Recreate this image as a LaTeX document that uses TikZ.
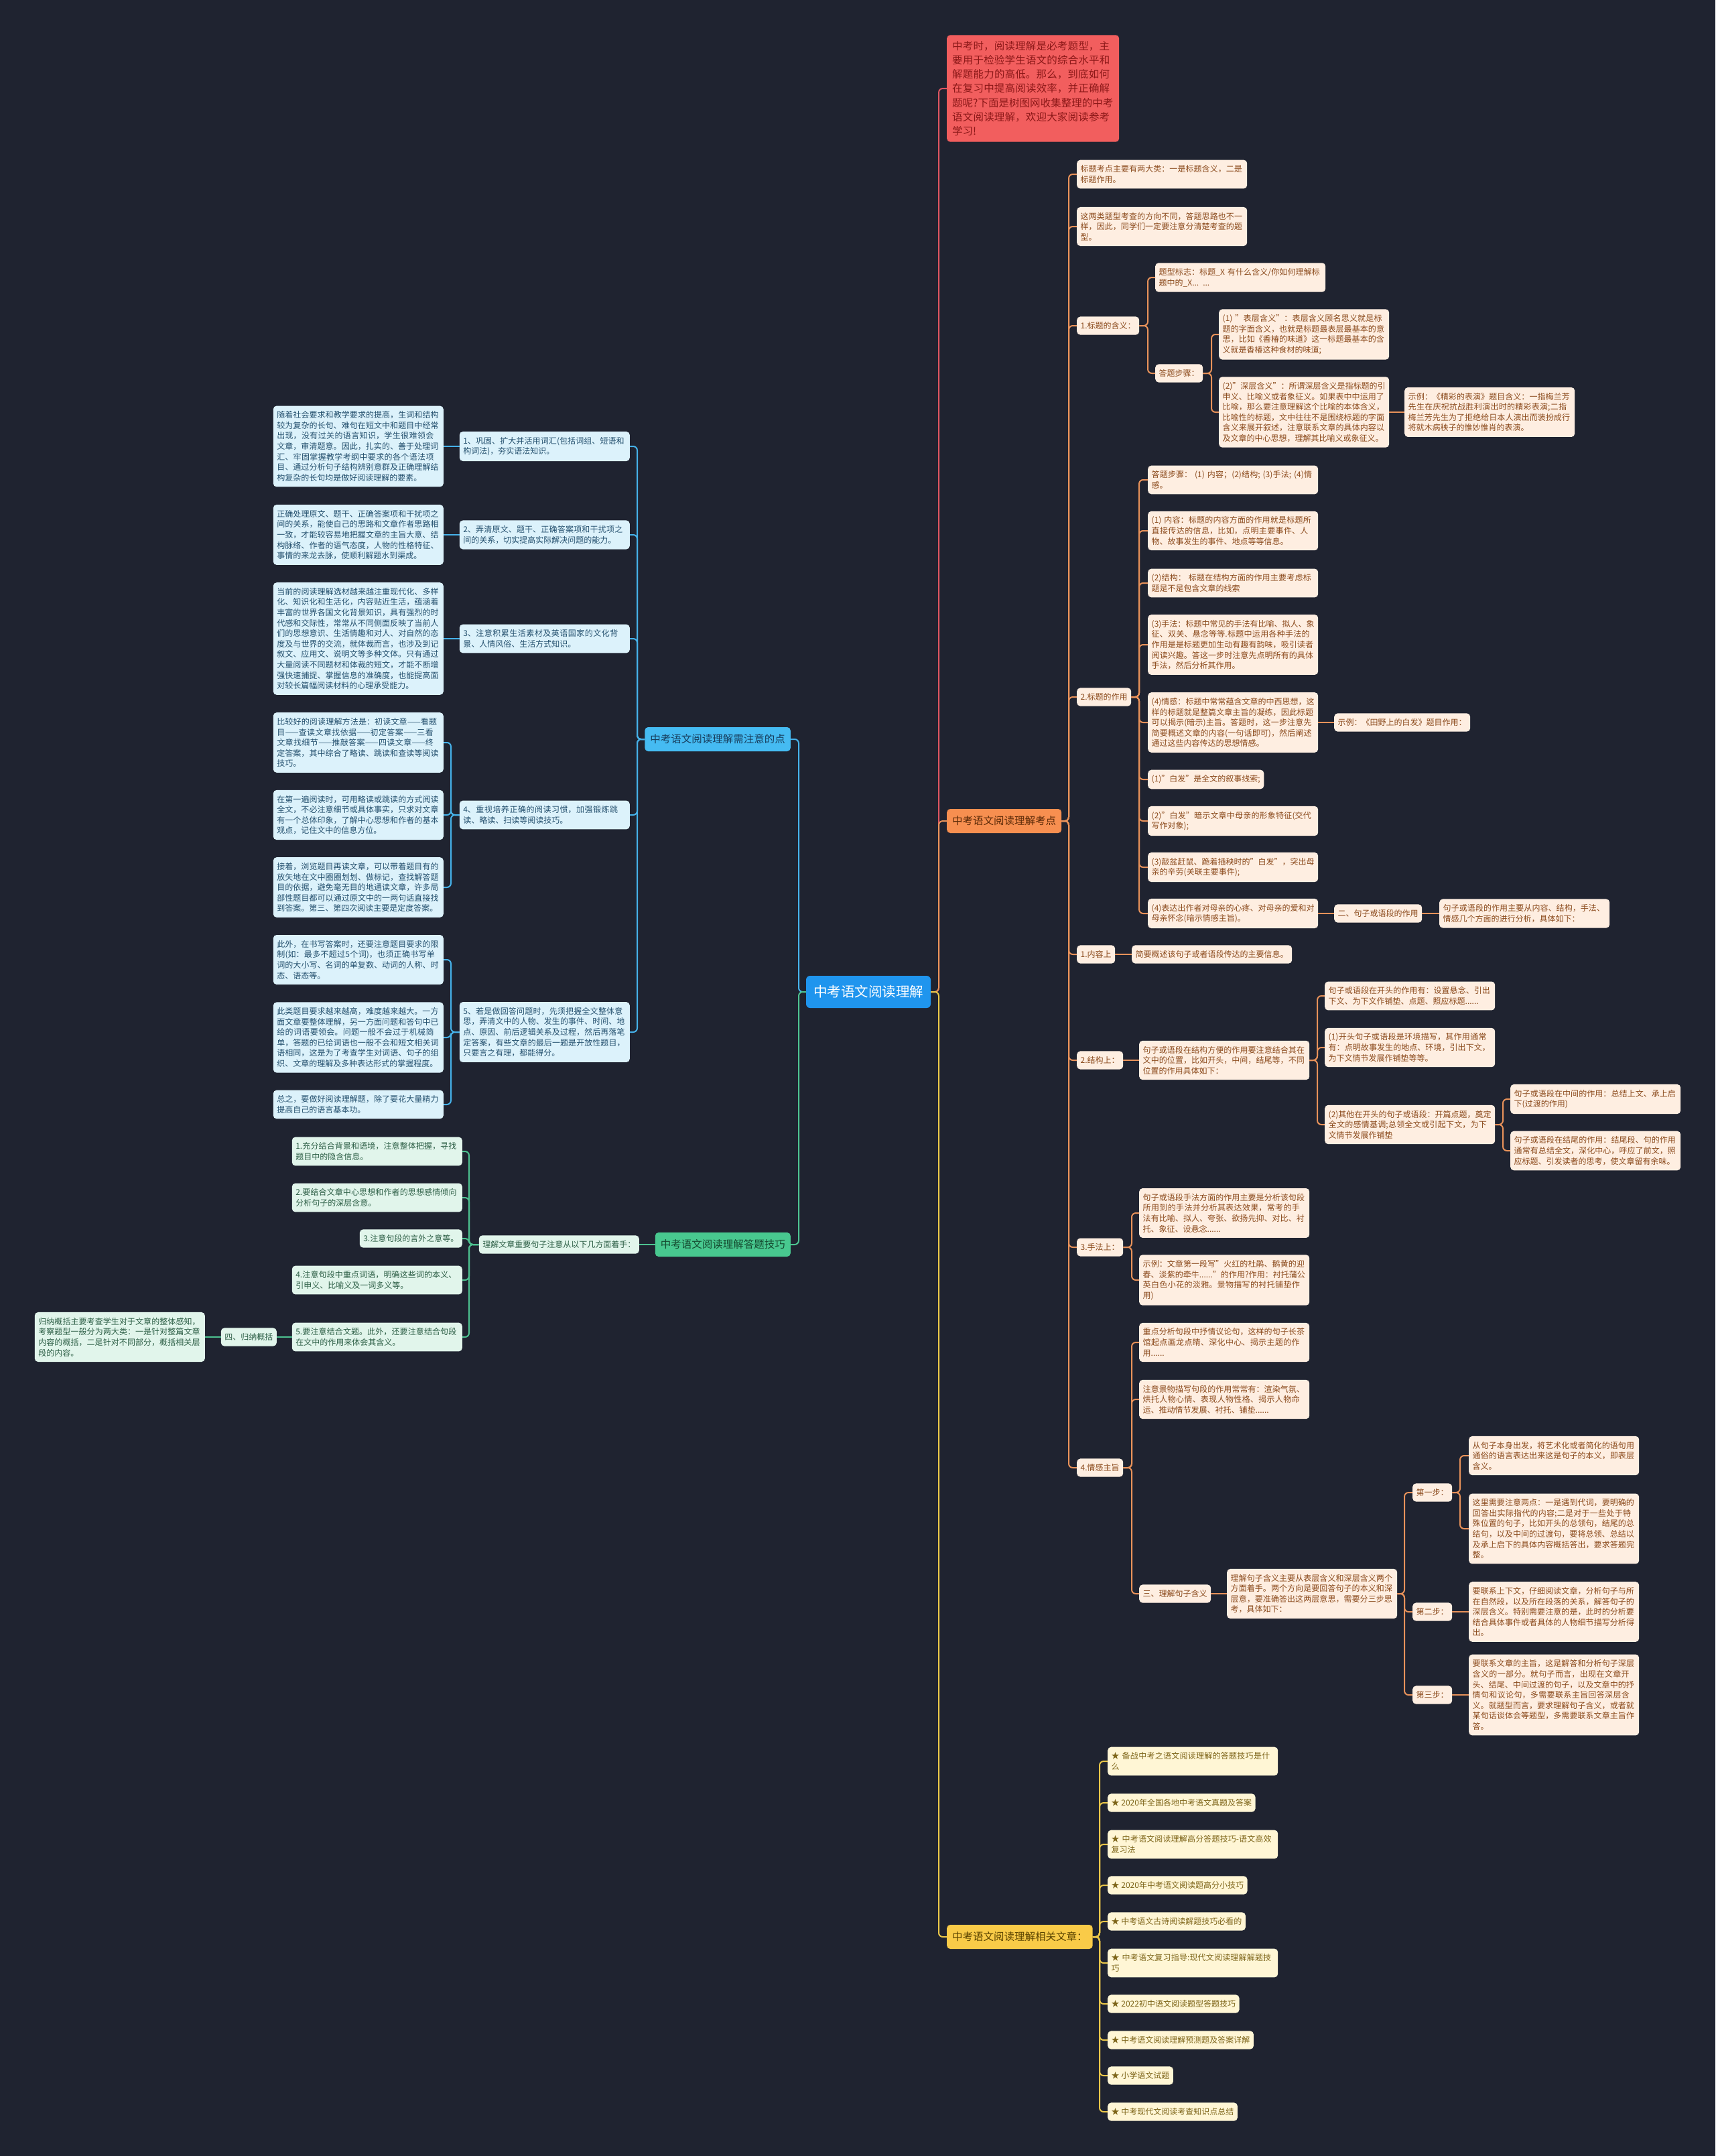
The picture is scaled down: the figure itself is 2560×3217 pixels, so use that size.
\documentclass[tikz,border=0pt]{standalone}
\usepackage{fontspec}
\setmainfont{Noto Sans CJK SC}
\XeTeXlinebreaklocale "zh"
\XeTeXlinebreakskip=0pt plus 1pt

\definecolor{bg}{HTML}{1F2330}
\definecolor{rootfill}{HTML}{1F95EE}
\definecolor{redfill}{HTML}{F25E5E}
\definecolor{redtext}{HTML}{8C1818}
\definecolor{redline}{HTML}{DC5560}
\definecolor{orfill}{HTML}{F78F50}
\definecolor{ortext}{HTML}{5C2A08}
\definecolor{orleaf}{HTML}{FEEEE1}
\definecolor{orleaftext}{HTML}{8B4A1C}
\definecolor{orline}{HTML}{E8925A}
\definecolor{yefill}{HTML}{F9CB48}
\definecolor{yetext}{HTML}{5A4300}
\definecolor{yeleaf}{HTML}{FFF6D5}
\definecolor{yeleaftext}{HTML}{7D6418}
\definecolor{yeline}{HTML}{E9C649}
\definecolor{blfill}{HTML}{45BBF2}
\definecolor{bltext}{HTML}{173D5C}
\definecolor{blleaf}{HTML}{DCF2FB}
\definecolor{blleaftext}{HTML}{24506E}
\definecolor{blline}{HTML}{46B2EA}
\definecolor{grfill}{HTML}{48C88F}
\definecolor{grtext}{HTML}{154A30}
\definecolor{grleaf}{HTML}{E1F5EB}
\definecolor{grleaftext}{HTML}{2C5E45}
\definecolor{grline}{HTML}{4DC290}

\begin{document}
\begin{tikzpicture}[
        x=1pt, y=-1pt,
        font=\fontsize{12}{15.6}\selectfont,
        box/.style={rounded corners=5pt, inner xsep=5.5pt, inner ysep=8pt, align=left},
        wide/.style={text width=243pt},
        oleaf/.style={box, fill=orleaf, text=orleaftext},
        bleaf/.style={box, fill=blleaf, text=blleaftext},
        gleaf/.style={box, fill=grleaf, text=grleaftext},
        yleaf/.style={box, fill=yeleaf, text=yeleaftext},
        topic/.style={rounded corners=5pt, inner xsep=8pt, minimum height=36pt, font=\fontsize{15.5}{20}\selectfont},
        rootbox/.style={rounded corners=6pt, inner xsep=11pt, minimum height=48pt, fill=rootfill, text=white, font=\fontsize{20.5}{24}\selectfont},
        introbox/.style={rounded corners=5pt, inner xsep=8pt, inner ysep=9pt, text width=241pt, align=left, fill=redfill, text=redtext, font=\fontsize{15.5}{21.2}\selectfont},
        conn/.style={line width=2pt, rounded corners=6pt},
        rlink/.style={conn, draw=redline},
        olink/.style={conn, draw=orline},
        ylink/.style={conn, draw=yeline},
        blink/.style={conn, draw=blline},
        glink/.style={conn, draw=grline}
      ]
        \useasboundingbox (0,0) rectangle (2560,3217);
        \fill[bg] (0,0) rectangle (2560,3217);

        % centre and main topics
        \node[rootbox] (root) at (1296,1480) {中考语文阅读理解};
        \node[introbox, anchor=west] (intro) at (1413,132) {中考时，阅读理解是必考题型，主要用于检验学生语文的综合水平和解题能力的高低。那么，到底如何在复习中提高阅读效率，并正确解题呢?下面是树图网收集整理的中考语文阅读理解，欢迎大家阅读参考学习!};
        \node[topic, fill=orfill, text=ortext, anchor=west] (points) at (1413,1225) {中考语文阅读理解考点};
        \node[topic, fill=yefill, text=yetext, anchor=west] (links) at (1413,2890) {中考语文阅读理解相关文章：};
        \node[topic, fill=blfill, text=bltext, anchor=east] (notes) at (1180,1103) {中考语文阅读理解需注意的点};
        \node[topic, fill=grfill, text=grtext, anchor=east] (skills) at (1180,1857) {中考语文阅读理解答题技巧};

        % exam points
        \node[oleaf, wide, anchor=west] (p1) at (1607,260) {标题考点主要有两大类：一是标题含义，二是标题作用。};
        \node[oleaf, wide, anchor=west] (p2) at (1607,338) {这两类题型考查的方向不同，答题思路也不一样，因此，同学们一定要注意分清楚考查的题型。};
        \node[oleaf, anchor=west] (pMean) at (1607,486) {1.标题的含义：};
        \node[oleaf, wide, anchor=west] (pMeanSign) at (1724,414) {题型标志：标题\_X 有什么含义/你如何理解标题中的\_X... ...};
        \node[oleaf, anchor=west] (pMeanSteps) at (1724,557) {答题步骤：};
        \node[oleaf, wide, anchor=west] (pMeanSurf) at (1819,499) {(1) "表层含义"：表层含义顾名思义就是标题的字面含义，也就是标题最表层最基本的意思，比如《香椿的味道》这一标题最基本的含义就是香椿这种食材的味道;};
        \node[oleaf, wide, anchor=west] (pMeanDeep) at (1819,615) {(2)"深层含义"：所谓深层含义是指标题的引申义、比喻义或者象征义。如果表中中运用了比喻，那么要注意理解这个比喻的本体含义，比喻性的标题，文中往往不是围绕标题的字面含义来展开叙述，注意联系文章的具体内容以及文章的中心思想，理解其比喻义或象征义。};
        \node[oleaf, wide, anchor=west] (pMeanEx) at (2096,615) {示例：《精彩的表演》题目含义：一指梅兰芳先生在庆祝抗战胜利演出时的精彩表演;二指梅兰芳先生为了拒绝给日本人演出而装扮成行将就木病秧子的惟妙惟肖的表演。};

        \node[oleaf, anchor=west] (pUse) at (1607,1040) {2.标题的作用};
        \node[oleaf, wide, anchor=west] (pUse1) at (1713,716) {答题步骤：  (1) 内容；(2)结构; (3)手法; (4)情感。};
        \node[oleaf, wide, anchor=west] (pUse2) at (1713,792) {(1) 内容：标题的内容方面的作用就是标题所直接传达的信息，比如，点明主要事件、人物、故事发生的事件、地点等等信息。};
        \node[oleaf, wide, anchor=west] (pUse3) at (1713,870) {(2)结构：  标题在结构方面的作用主要考虑标题是不是包含文章的线索};
        \node[oleaf, wide, anchor=west] (pUse4) at (1713,962) {(3)手法：标题中常见的手法有比喻、拟人、象征、双关、悬念等等.标题中运用各种手法的作用是是标题更加生动有趣有韵味，吸引读者阅读兴趣。答这一步时注意先点明所有的具体手法，然后分析其作用。};
        \node[oleaf, wide, anchor=west] (pUse5) at (1713,1078) {(4)情感：标题中常常蕴含文章的中西思想，这样的标题就是整篇文章主旨的凝练，因此标题可以揭示(暗示)主旨。答题时，这一步注意先简要概述文章的内容(一句话即可)，然后阐述通过这些内容传达的思想情感。};
        \node[oleaf, anchor=west] (pUseEx) at (1991,1078) {示例：《田野上的白发》题目作用：};
        \node[oleaf, anchor=west] (pUse6) at (1713,1163) {(1)"白发"是全文的叙事线索;};
        \node[oleaf, wide, anchor=west] (pUse7) at (1713,1225) {(2)"白发"暗示文章中母亲的形象特征(交代写作对象);};
        \node[oleaf, wide, anchor=west] (pUse8) at (1713,1294) {(3)敲盆赶鼠、跪着插秧时的"白发"，突出母亲的辛劳(关联主要事件);};
        \node[oleaf, wide, anchor=west] (pUse9) at (1713,1363) {(4)表达出作者对母亲的心疼、对母亲的爱和对母亲怀念(暗示情感主旨)。};
        \node[oleaf, anchor=west] (pPara) at (1991,1363) {二、句子或语段的作用};
        \node[oleaf, wide, anchor=west] (pParaTxt) at (2148,1363) {句子或语段的作用主要从内容、结构，手法、情感几个方面的进行分析，具体如下：};

        \node[oleaf, anchor=west] (pCont) at (1607,1424) {1.内容上};
        \node[oleaf, anchor=west] (pContTxt) at (1689,1424) {简要概述该句子或者语段传达的主要信息。};

        \node[oleaf, anchor=west] (pStruct) at (1607,1582) {2.结构上：};
        \node[oleaf, wide, anchor=west] (pStructTxt) at (1700,1582) {句子或语段在结构方便的作用要注意结合其在文中的位置，比如开头，中间，结尾等，不同位置的作用具体如下：};
        \node[oleaf, wide, anchor=west] (pStructA) at (1977,1486) {句子或语段在开头的作用有：设置悬念、引出下文、为下文作铺垫、点题、照应标题......};
        \node[oleaf, wide, anchor=west] (pStructB) at (1977,1563) {(1)开头句子或语段是环境描写，其作用通常有：点明故事发生的地点、环境，引出下文，为下文情节发展作铺垫等等。};
        \node[oleaf, wide, anchor=west] (pStructC) at (1977,1678) {(2)其他在开头的句子或语段：开篇点题，奠定全文的感情基调;总领全文或引起下文，为下文情节发展作铺垫};
        \node[oleaf, wide, anchor=west] (pStructMid) at (2254,1640) {句子或语段在中间的作用：总结上文、承上启下(过渡的作用)};
        \node[oleaf, wide, anchor=west] (pStructEnd) at (2254,1717) {句子或语段在结尾的作用：结尾段、句的作用通常有总结全文，深化中心，呼应了前文，照应标题、引发读者的思考，使文章留有余味。};

        \node[oleaf, anchor=west] (pTech) at (1607,1861) {3.手法上：};
        \node[oleaf, wide, anchor=west] (pTechA) at (1700,1810) {句子或语段手法方面的作用主要是分析该句段所用到的手法并分析其表达效果，常考的手法有比喻、拟人、夸张、欲扬先抑、对比、衬托、象征、设悬念......};
        \node[oleaf, wide, anchor=west] (pTechB) at (1700,1910) {示例：文章第一段写"火红的杜鹃、鹅黄的迎春、淡紫的牵牛......"的作用?作用：衬托蒲公英白色小花的淡雅。景物描写的衬托铺垫作用)};

        \node[oleaf, anchor=west] (pEmo) at (1607,2190) {4.情感主旨};
        \node[oleaf, wide, anchor=west] (pEmoA) at (1700,2003) {重点分析句段中抒情议论句，这样的句子长茶馆起点画龙点睛、深化中心、揭示主题的作用......};
        \node[oleaf, wide, anchor=west] (pEmoB) at (1700,2088) {注意景物描写句段的作用常常有：渲染气氛、烘托人物心情、表现人物性格、揭示人物命运、推动情节发展、衬托、铺垫......};
        \node[oleaf, anchor=west] (pSent) at (1700,2378) {三、理解句子含义};
        \node[oleaf, wide, anchor=west] (pSentTxt) at (1831,2378) {理解句子含义主要从表层含义和深层含义两个方面着手。两个方向是要回答句子的本义和深层意，要准确答出这两层意思，需要分三步思考，具体如下：};
        \node[oleaf, anchor=west] (pStep1) at (2108,2227) {第一步：};
        \node[oleaf, anchor=west] (pStep2) at (2108,2405) {第二步：};
        \node[oleaf, anchor=west] (pStep3) at (2108,2529) {第三步：};
        \node[oleaf, wide, anchor=west] (pStep1a) at (2192,2172) {从句子本身出发，将艺术化或者简化的语句用通俗的语言表达出来这是句子的本义，即表层含义。};
        \node[oleaf, wide, anchor=west] (pStep1b) at (2192,2281) {这里需要注意两点：一是遇到代词，要明确的回答出实际指代的内容;二是对于一些处于特殊位置的句子，比如开头的总领句，结尾的总结句，以及中间的过渡句，要将总领、总结以及承上启下的具体内容概括答出，要求答题完整。};
        \node[oleaf, wide, anchor=west] (pStep2a) at (2192,2405) {要联系上下文，仔细阅读文章，分析句子与所在自然段，以及所在段落的关系，解答句子的深层含义。特别需要注意的是，此时的分析要结合具体事件或者具体的人物细节描写分析得出。};
        \node[oleaf, wide, anchor=west] (pStep3a) at (2192,2529) {要联系文章的主旨，这是解答和分析句子深层含义的一部分。就句子而言，出现在文章开头、结尾、中间过渡的句子，以及文章中的抒情句和议论句，多需要联系主旨回答深层含义。就题型而言，要求理解句子含义，或者就某句话谈体会等题型，多需要联系文章主旨作答。};

        % related articles
        \node[yleaf, wide, anchor=west] (l1) at (1653,2628) {★ 备战中考之语文阅读理解的答题技巧是什么};
        \node[yleaf, anchor=west] (l2) at (1653,2690) {★ 2020年全国各地中考语文真题及答案};
        \node[yleaf, wide, anchor=west] (l3) at (1653,2752) {★ 中考语文阅读理解高分答题技巧-语文高效复习法};
        \node[yleaf, anchor=west] (l4) at (1653,2813) {★ 2020年中考语文阅读题高分小技巧};
        \node[yleaf, anchor=west] (l5) at (1653,2867) {★ 中考语文古诗阅读解题技巧必看的};
        \node[yleaf, wide, anchor=west] (l6) at (1653,2929) {★ 中考语文复习指导:现代文阅读理解解题技巧};
        \node[yleaf, anchor=west] (l7) at (1653,2990) {★ 2022初中语文阅读题型答题技巧};
        \node[yleaf, anchor=west] (l8) at (1653,3044) {★ 中考语文阅读理解预测题及答案详解};
        \node[yleaf, anchor=west] (l9) at (1653,3097) {★ 小学语文试题};
        \node[yleaf, anchor=west] (l10) at (1653,3151) {★ 中考现代文阅读考查知识点总结};

        % points to note
        \node[bleaf, wide, anchor=east] (n1) at (940,666) {1、巩固、扩大并活用词汇(包括词组、短语和构词法)，夯实语法知识。};
        \node[bleaf, wide, anchor=east] (n1a) at (662,666) {随着社会要求和教学要求的提高，生词和结构较为复杂的长句、难句在短文中和题目中经常出现，没有过关的语言知识，学生很难领会文章，审清题意。因此，扎实的、善于处理词汇、牢固掌握教学考纲中要求的各个语法项目、通过分析句子结构辨别意群及正确理解结构复杂的长句均是做好阅读理解的要素。};
        \node[bleaf, wide, anchor=east] (n2) at (940,798) {2、弄清原文、题干、正确答案项和干扰项之间的关系，切实提高实际解决问题的能力。};
        \node[bleaf, wide, anchor=east] (n2a) at (662,798) {正确处理原文、题干、正确答案项和干扰项之间的关系，能使自己的思路和文章作者思路相一致，才能较容易地把握文章的主旨大意、结构脉络、作者的语气态度，人物的性格特征、事情的来龙去脉，使顺利解题水到渠成。};
        \node[bleaf, wide, anchor=east] (n3) at (940,953) {3、注意积累生活素材及英语国家的文化背景、人情风俗、生活方式知识。};
        \node[bleaf, wide, anchor=east] (n3a) at (662,953) {当前的阅读理解选材越来越注重现代化、多样化、知识化和生活化，内容贴近生活，蕴涵着丰富的世界各国文化背景知识，具有强烈的时代感和交际性，常常从不同侧面反映了当前人们的思想意识、生活情趣和对人、对自然的态度及与世界的交流，就体裁而言，也涉及到记叙文、应用文、说明文等多种文体。只有通过大量阅读不同题材和体裁的短文，才能不断增强快速捕捉、掌握信息的准确度，也能提高面对较长篇幅阅读材料的心理承受能力。};
        \node[bleaf, wide, anchor=east] (n4) at (940,1216) {4、重视培养正确的阅读习惯，加强锻炼跳读、略读、扫读等阅读技巧。};
        \node[bleaf, wide, anchor=east] (n4a) at (662,1108) {比较好的阅读理解方法是：初读文章——看题目——查读文章找依据——初定答案——三看文章找细节——推敲答案——四读文章——终定答案，其中综合了略读、跳读和查读等阅读技巧。};
        \node[bleaf, wide, anchor=east] (n4b) at (662,1216) {在第一遍阅读时，可用略读或跳读的方式阅读全文，不必注意细节或具体事实，只求对文章有一个总体印象，了解中心思想和作者的基本观点，记住文中的信息方位。};
        \node[bleaf, wide, anchor=east] (n4c) at (662,1324) {接着，浏览题目再读文章，可以带着题目有的放矢地在文中圈圈划划、做标记，查找解答题目的依据，避免毫无目的地通读文章，许多局部性题目都可以通过原文中的一两句话直接找到答案。第三、第四次阅读主要是定度答案。};
        \node[bleaf, wide, anchor=east] (n5) at (940,1540) {5、若是做回答问题时，先须把握全文整体意思，弄清文中的人物、发生的事件、时间、地点、原因、前后逻辑关系及过程，然后再落笔定答案，有些文章的最后一题是开放性题目，只要言之有理，都能得分。};
        \node[bleaf, wide, anchor=east] (n5a) at (662,1432) {此外，在书写答案时，还要注意题目要求的限制(如：最多不超过5个词)，也须正确书写单词的大小写、名词的单复数、动词的人称、时态、语态等。};
        \node[bleaf, wide, anchor=east] (n5b) at (662,1548) {此类题目要求越来越高，难度越来越大。一方面文章要整体理解，另一方面问题和答句中已给的词语要领会。问题一般不会过于机械简单，答题的已给词语也一般不会和短文相关词语相同，这是为了考查学生对词语、句子的组织、文章的理解及多种表达形式的掌握程度。};
        \node[bleaf, wide, anchor=east] (n5c) at (662,1648) {总之，要做好阅读理解题，除了要花大量精力提高自己的语言基本功。};

        % answering skills
        \node[gleaf, anchor=east] (sMain) at (954,1857) {理解文章重要句子注意从以下几方面着手：};
        \node[gleaf, wide, anchor=east] (s1) at (690,1718) {1.充分结合背景和语境，注意整体把握，寻找题目中的隐含信息。};
        \node[gleaf, wide, anchor=east] (s2) at (690,1787) {2.要结合文章中心思想和作者的思想感情倾向分析句子的深层含意。};
        \node[gleaf, anchor=east] (s3) at (690,1848) {3.注意句段的言外之意等。};
        \node[gleaf, wide, anchor=east] (s4) at (690,1910) {4.注意句段中重点词语，明确这些词的本义、引申义、比喻义及一词多义等。};
        \node[gleaf, wide, anchor=east] (s5) at (690,1995) {5.要注意结合文题。此外，还要注意结合句段在文中的作用来体会其含义。};
        \node[gleaf, anchor=east] (sSum) at (413,1995) {四、归纳概括};
        \node[gleaf, wide, anchor=east] (sSumTxt) at (306,1995) {归纳概括主要考查学生对于文章的整体感知，考察题型一般分为两大类：一是针对整篇文章内容的概括，二是针对不同部分，概括相关层段的内容。};

        % connectors, right side
        \draw[rlink] (intro.west) -- ++(-12,0) |- (root.east);
        \draw[olink] (points.west) -- ++(-12,0) |- (root.east);
        \draw[ylink] (links.west) -- ++(-12,0) |- (root.east);

        \draw[olink] (p1.west) -- ++(-12,0) |- (points.east);
        \draw[olink] (p2.west) -- ++(-12,0) |- (points.east);
        \draw[olink] (pMean.west) -- ++(-12,0) |- (points.east);
        \draw[olink] (pUse.west) -- ++(-12,0) |- (points.east);
        \draw[olink] (pCont.west) -- ++(-12,0) |- (points.east);
        \draw[olink] (pStruct.west) -- ++(-12,0) |- (points.east);
        \draw[olink] (pTech.west) -- ++(-12,0) |- (points.east);
        \draw[olink] (pEmo.west) -- ++(-12,0) |- (points.east);

        \draw[olink] (pMeanSign.west) -- ++(-11,0) |- (pMean.east);
        \draw[olink] (pMeanSteps.west) -- ++(-11,0) |- (pMean.east);
        \draw[olink] (pMeanSurf.west) -- ++(-11,0) |- (pMeanSteps.east);
        \draw[olink] (pMeanDeep.west) -- ++(-11,0) |- (pMeanSteps.east);
        \draw[olink] (pMeanDeep) -- (pMeanEx);

        \draw[olink] (pUse1.west) -- ++(-13,0) |- (pUse.east);
        \draw[olink] (pUse2.west) -- ++(-13,0) |- (pUse.east);
        \draw[olink] (pUse3.west) -- ++(-13,0) |- (pUse.east);
        \draw[olink] (pUse4.west) -- ++(-13,0) |- (pUse.east);
        \draw[olink] (pUse5.west) -- ++(-13,0) |- (pUse.east);
        \draw[olink] (pUse6.west) -- ++(-13,0) |- (pUse.east);
        \draw[olink] (pUse7.west) -- ++(-13,0) |- (pUse.east);
        \draw[olink] (pUse8.west) -- ++(-13,0) |- (pUse.east);
        \draw[olink] (pUse9.west) -- ++(-13,0) |- (pUse.east);
        \draw[olink] (pUse5) -- (pUseEx);
        \draw[olink] (pUse9) -- (pPara);
        \draw[olink] (pPara) -- (pParaTxt);

        \draw[olink] (pCont) -- (pContTxt);
        \draw[olink] (pStruct) -- (pStructTxt);
        \draw[olink] (pStructA.west) -- ++(-11,0) |- (pStructTxt.east);
        \draw[olink] (pStructB.west) -- ++(-11,0) |- (pStructTxt.east);
        \draw[olink] (pStructC.west) -- ++(-11,0) |- (pStructTxt.east);
        \draw[olink] (pStructMid.west) -- ++(-11,0) |- (pStructC.east);
        \draw[olink] (pStructEnd.west) -- ++(-11,0) |- (pStructC.east);

        \draw[olink] (pTechA.west) -- ++(-11,0) |- (pTech.east);
        \draw[olink] (pTechB.west) -- ++(-11,0) |- (pTech.east);

        \draw[olink] (pEmoA.west) -- ++(-11,0) |- (pEmo.east);
        \draw[olink] (pEmoB.west) -- ++(-11,0) |- (pEmo.east);
        \draw[olink] (pSent.west) -- ++(-11,0) |- (pEmo.east);
        \draw[olink] (pSent) -- (pSentTxt);
        \draw[olink] (pStep1.west) -- ++(-12,0) |- (pSentTxt.east);
        \draw[olink] (pStep2.west) -- ++(-12,0) |- (pSentTxt.east);
        \draw[olink] (pStep3.west) -- ++(-12,0) |- (pSentTxt.east);
        \draw[olink] (pStep1a.west) -- ++(-13,0) |- (pStep1.east);
        \draw[olink] (pStep1b.west) -- ++(-13,0) |- (pStep1.east);
        \draw[olink] (pStep2) -- (pStep2a);
        \draw[olink] (pStep3) -- (pStep3a);

        \draw[ylink] (l1.west) -- ++(-12,0) |- (links.east);
        \draw[ylink] (l2.west) -- ++(-12,0) |- (links.east);
        \draw[ylink] (l3.west) -- ++(-12,0) |- (links.east);
        \draw[ylink] (l4.west) -- ++(-12,0) |- (links.east);
        \draw[ylink] (l5.west) -- ++(-12,0) |- (links.east);
        \draw[ylink] (l6.west) -- ++(-12,0) |- (links.east);
        \draw[ylink] (l7.west) -- ++(-12,0) |- (links.east);
        \draw[ylink] (l8.west) -- ++(-12,0) |- (links.east);
        \draw[ylink] (l9.west) -- ++(-12,0) |- (links.east);
        \draw[ylink] (l10.west) -- ++(-12,0) |- (links.east);

        % connectors, left side
        \draw[blink] (notes.east) -- ++(12,0) |- (root.west);
        \draw[glink] (skills.east) -- ++(12,0) |- (root.west);

        \draw[blink] (n1.east) -- ++(11,0) |- (notes.west);
        \draw[blink] (n2.east) -- ++(11,0) |- (notes.west);
        \draw[blink] (n3.east) -- ++(11,0) |- (notes.west);
        \draw[blink] (n4.east) -- ++(11,0) |- (notes.west);
        \draw[blink] (n5.east) -- ++(11,0) |- (notes.west);
        \draw[blink] (n1a) -- (n1);
        \draw[blink] (n2a) -- (n2);
        \draw[blink] (n3a) -- (n3);
        \draw[blink] (n4a.east) -- ++(11,0) |- (n4.west);
        \draw[blink] (n4b.east) -- ++(11,0) |- (n4.west);
        \draw[blink] (n4c.east) -- ++(11,0) |- (n4.west);
        \draw[blink] (n5a.east) -- ++(11,0) |- (n5.west);
        \draw[blink] (n5b.east) -- ++(11,0) |- (n5.west);
        \draw[blink] (n5c.east) -- ++(11,0) |- (n5.west);

        \draw[glink] (sMain) -- (skills);
        \draw[glink] (s1.east) -- ++(10,0) |- (sMain.west);
        \draw[glink] (s2.east) -- ++(10,0) |- (sMain.west);
        \draw[glink] (s3.east) -- ++(10,0) |- (sMain.west);
        \draw[glink] (s4.east) -- ++(10,0) |- (sMain.west);
        \draw[glink] (s5.east) -- ++(10,0) |- (sMain.west);
        \draw[glink] (sSum) -- (s5);
        \draw[glink] (sSumTxt) -- (sSum);
      \end{tikzpicture}
\end{document}
